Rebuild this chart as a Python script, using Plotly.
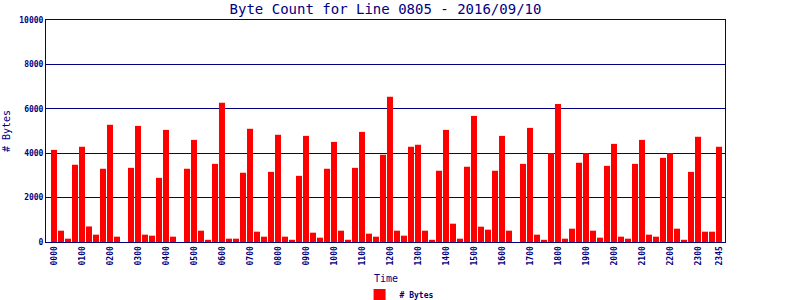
import plotly.graph_objects as go

times = [f"{h:02d}{m:02d}" for h in range(24) for m in (0, 15, 30, 45)]
byte_counts = [
    4150, 510, 150, 3480, 4290, 700, 330, 3300, 5280, 240, 0, 3340,
    5230, 330, 285, 2890, 5050, 240, 0, 3300, 4600, 510, 100, 3520,
    6270, 150, 150, 3120, 5100, 465, 240, 3160, 4830, 240, 100, 2980,
    4780, 420, 195, 3300, 4510, 510, 100, 3340, 4960, 375, 240, 3930,
    6540, 510, 285, 4290, 4380, 510, 100, 3210, 5050, 825, 150, 3390,
    5680, 690, 555, 3210, 4780, 510, 0, 3520, 5140, 330, 100, 4000,
    6220, 150, 600, 3570, 4000, 510, 195, 3430, 4420, 240, 150, 3520,
    4600, 330, 240, 3790, 4000, 600, 100, 3160, 4740, 465, 465, 4290,
]
tick_labels = [t for t in times if t.endswith("00")] + ["2345"]
y_ticks = [0, 2000, 4000, 6000, 8000, 10000]
y_tick_text = [str(v) for v in y_ticks]

NAVY = "#000080"
MONO = "DejaVu Sans Mono"

fig = go.Figure()
fig.add_trace(go.Bar(
    x=times, y=byte_counts, name="# Bytes",
    marker=dict(color="#FF0000", line=dict(width=0)),
    showlegend=True,
))

fig.update_layout(
    width=800, height=300,
    margin=dict(l=46, r=75, t=20, b=58, autoexpand=False),
    paper_bgcolor="white", plot_bgcolor="white",
    bargap=0.143,
    title=dict(text="Byte Count for Line 0805 - 2016/09/10",
               x=0.5, xanchor="center", xref="paper",
               y=1 - 9 / 300, yanchor="middle", yref="container",
               font=dict(family=MONO, size=14, color=NAVY)),
    xaxis=dict(
        type="category", range=[-1.14, 95.86], automargin=False,
        tickmode="array", tickvals=tick_labels, ticktext=tick_labels,
        tickangle=-90, tickfont=dict(family=MONO, size=8, color=NAVY, weight="bold"),
        showline=True, linecolor=NAVY, linewidth=1, mirror=True,
        showgrid=False, ticks="", zeroline=False,
    ),
    yaxis=dict(
        range=[0, 10000], tickvals=y_ticks, ticktext=y_tick_text, automargin=False,
        tickfont=dict(family=MONO, size=8, color=NAVY, weight="bold"),
        showline=True, linecolor=NAVY, linewidth=1, mirror=True,
        showgrid=True, gridcolor=NAVY, gridwidth=1, ticks="", zeroline=False,
        title=dict(text="# Bytes", font=dict(family=MONO, size=10, color=NAVY), standoff=6),
    ),
    legend=dict(orientation="h", x=0.52, xanchor="center", xref="paper",
                y=5 / 300, yanchor="middle", yref="container",
                font=dict(family=MONO, size=8, color=NAVY, weight="bold"),
                itemwidth=30),
    annotations=[dict(text="Time", xref="paper", x=0.5, xanchor="center",
                      yref="paper", y=-36 / 222, yanchor="middle", showarrow=False,
                      font=dict(family=MONO, size=10, color=NAVY))],
)

fig.write_html("out.html")
